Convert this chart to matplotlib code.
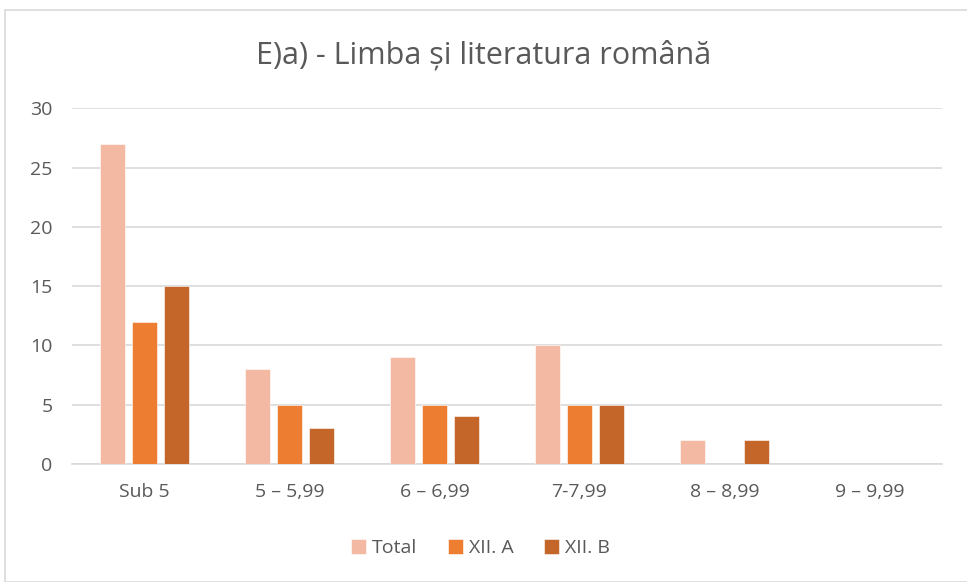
import numpy as np
import matplotlib.pyplot as plt
from matplotlib.patches import Rectangle

categories = ['Sub 5', '5 – 5,99', '6 – 6,99', '7-7,99', '8 – 8,99', '9 – 9,99']
total = [27, 8, 9, 10, 2, 0]
xii_a = [12, 5, 5, 5, 0, 0]
xii_b = [15, 3, 4, 5, 2, 0]
series_names = ['Total', 'XII. A', 'XII. B']
colors = ['#F4B9A3', '#ED7D31', '#C4662A']

plt.rcParams['font.family'] = ['Open Sans', 'DejaVu Sans']
text_color = '#595959'

fig = plt.figure(figsize=(9.67, 5.82), dpi=100)
ax = fig.add_axes([0.0745, 0.203, 0.8995, 0.611])

# chart border
fig.patches.append(Rectangle((0.005, 0.0), 1.2, 0.983, transform=fig.transFigure,
                             fill=False, edgecolor='#D9D9D9', linewidth=1.2))

x = np.arange(len(categories))
bar_width = 0.172
step = 0.222
for i, (vals, name) in enumerate(zip([total, xii_a, xii_b], series_names)):
    ax.bar(x + (i - 1) * step, vals, bar_width, color=colors[i], label=name,
           edgecolor='white', linewidth=0.4, zorder=3)

ax.set_xlim(-0.5, len(categories) - 0.5)
ax.set_ylim(0, 30)
ax.set_yticks(range(0, 31, 5))
ax.set_xticks(x)
ax.set_xticklabels(categories)
ax.yaxis.grid(True, color='#D9D9D9', linewidth=1.2, zorder=0)
for side in ['top', 'right', 'left']:
    ax.spines[side].set_visible(False)
ax.spines['bottom'].set_color('#D9D9D9')
ax.spines['bottom'].set_linewidth(1.2)
ax.tick_params(length=0, labelsize=14, colors=text_color)
ax.tick_params(axis='x', pad=14)
ax.tick_params(axis='y', pad=14)

fig.text(0.5, 0.905, 'E)a) - Limba și literatura română', ha='center', va='center',
         fontsize=22, color=text_color)

fig.legend(loc='center', bbox_to_anchor=(0.497, 0.058), ncol=3, frameon=False,
           fontsize=14, labelcolor=text_color, handlelength=0.75, handleheight=0.75,
           handletextpad=0.3, columnspacing=1.6)

fig.savefig('out.png', dpi=100)
